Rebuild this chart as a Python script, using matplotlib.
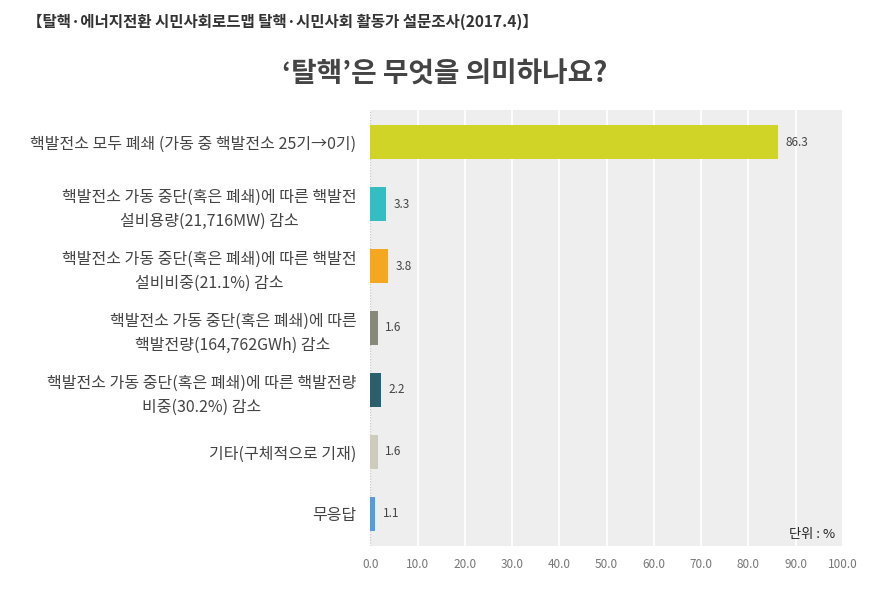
import matplotlib
matplotlib.use("Agg")
import matplotlib.pyplot as plt
import numpy as np

plt.rcParams['font.family'] = ['Noto Sans CJK KR', 'DejaVu Sans']

categories = [
    "핵발전소 모두 폐쇄 (가동 중 핵발전소 25기→0기)",
    "핵발전소 가동 중단(혹은 폐쇄)에 따른 핵발전\n설비용량(21,716MW) 감소",
    "핵발전소 가동 중단(혹은 폐쇄)에 따른 핵발전\n설비비중(21.1%) 감소",
    "핵발전소 가동 중단(혹은 폐쇄)에 따른\n핵발전량(164,762GWh) 감소",
    "핵발전소 가동 중단(혹은 폐쇄)에 따른 핵발전량\n비중(30.2%) 감소",
    "기타(구체적으로 기재)",
    "무응답",
]
values = [86.3, 3.3, 3.8, 1.6, 2.2, 1.6, 1.1]
colors = ["#cfd427", "#35bec1", "#f5a81f", "#878a78", "#2d5e6b", "#cdcbbe", "#5b9bd5"]
xticks = [0, 10, 20, 30, 40, 50, 60, 70, 80, 90, 100]

fig = plt.figure(figsize=(8.89, 5.9), dpi=100)
ax = fig.add_axes([0.4165, 0.0746, 0.5315, 0.739])
ax.set_facecolor("#eeeeee")

y = np.arange(len(categories))
ax.barh(y, values, height=0.55, color=colors, zorder=3)
for yi, v in zip(y, values):
    ax.text(v + 1.6, yi, f"{v:.1f}", va="center", ha="left", fontsize=8.5, color="#444444", zorder=4)

ax.set_xlim(0, 100)
ax.set_ylim(len(categories) - 0.5 + 0.02, -0.5 - 0.02)
ax.set_xticks(xticks)
ax.set_xticklabels([f"{t:.1f}" for t in xticks], fontsize=8.5, color="#777777")
ax.set_yticks(y)
ax.set_yticklabels(categories, fontsize=11.5, color="#444444", ha="right",
                   multialignment="center", linespacing=1.55)
ax.tick_params(axis='y', length=0, pad=10)
ax.tick_params(axis='x', length=0, pad=9)
ax.grid(axis='x', color="white", linewidth=1.2, zorder=1)
for s in ax.spines.values():
    s.set_visible(False)
ax.axvline(0, color="#cccccc", linewidth=1, linestyle=(0, (1, 1)), zorder=2)

ax.text(0.983, 0.012, "단위 : %", transform=ax.transAxes, ha="right", va="bottom", fontsize=9.5, color="#222222", zorder=5)

fig.text(0.03, 0.963, "【탈핵·에너지전환 시민사회로드맵 탈핵·시민사회 활동가 설문조사(2017.4)】",
         fontsize=11.2, color="#333333", ha="left", va="center", fontweight="bold")
fig.text(0.5, 0.873, "‘탈핵’은 무엇을 의미하나요?", fontsize=20, color="#444444",
         ha="center", va="center", fontweight="bold")

fig.savefig("out.png", dpi=100)
